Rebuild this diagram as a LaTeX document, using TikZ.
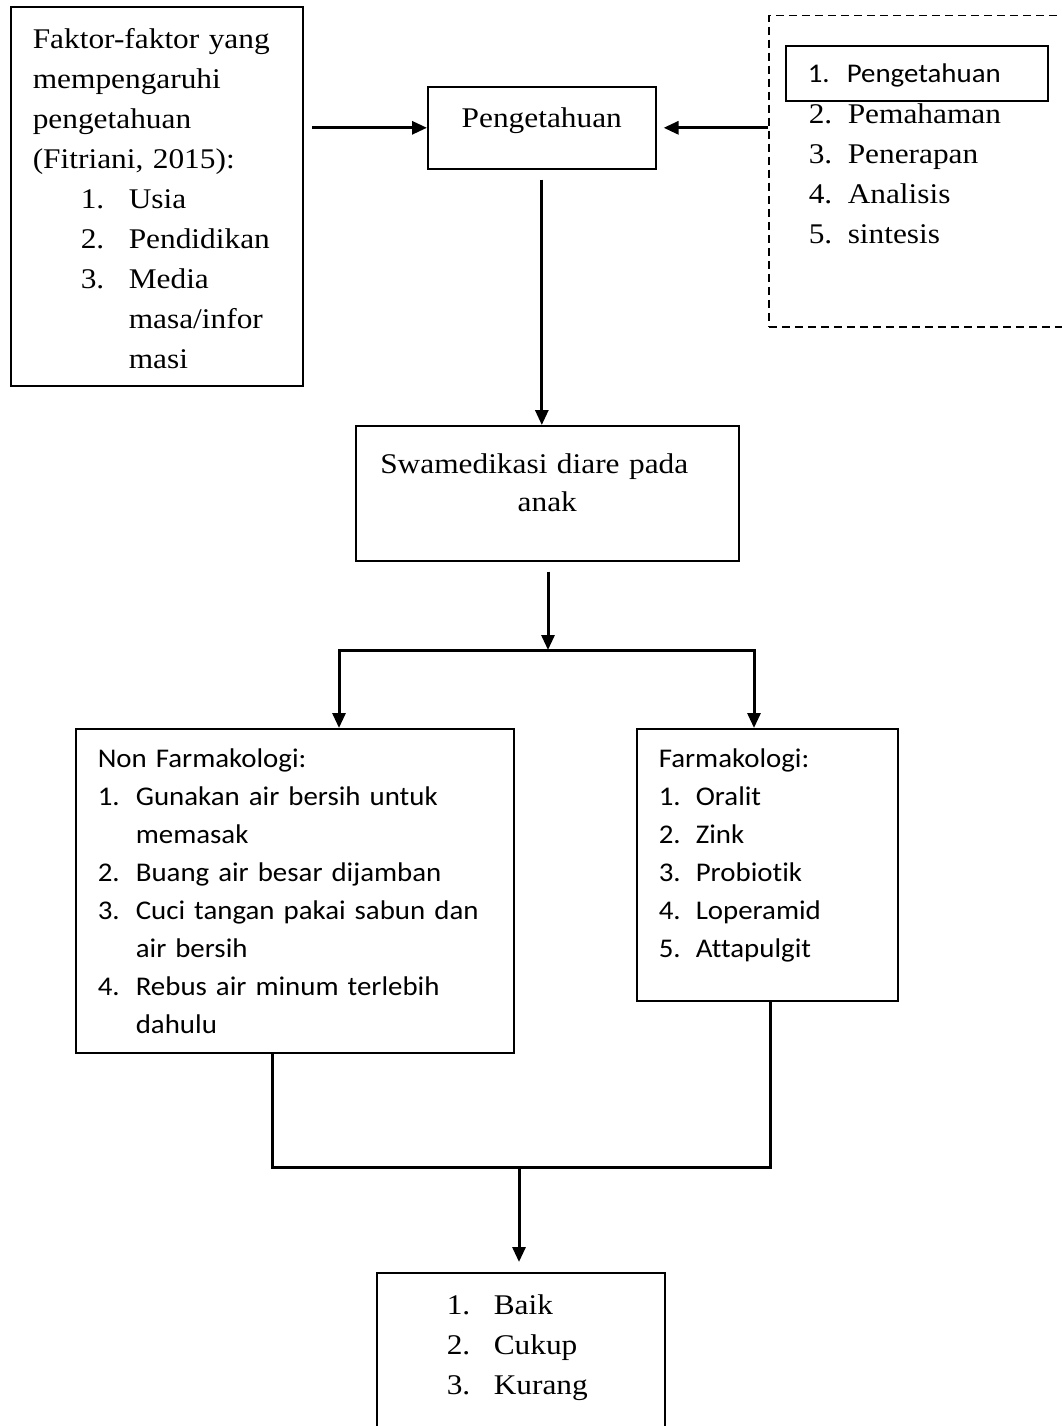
\documentclass[tikz,border=0pt]{standalone}
\usepackage{fontspec}
\setmainfont[FakeStretch=1.1]{Liberation Serif}
\newfontfamily\calibri[FakeStretch=1.07,Ligatures=NoCommon]{Carlito}
\usetikzlibrary{arrows.meta}
\newcommand{\nomor}[2][40pt]{\makebox[#1][l]{#2}}

\begin{document}
\begin{tikzpicture}[
x=1pt, y=-1pt,
box/.style={
  rectangle,
  draw,
  line width=1.6pt,
  inner xsep=22pt,
  inner ysep=0pt,
  align=left,
  anchor=north west
},
tnr/.style={font=\fontsize{28.5}{40}\selectfont},
cal/.style={font=\calibri\fontsize{27}{38}\selectfont},
arrow/.style={-{Triangle[length=15pt,width=13pt]},line width=3pt},
garis/.style={line width=3pt}
]
\useasboundingbox[fill=white] (0,0) rectangle (1062,1426);

% baris atas
\node[box,tnr,text width=248pt,text height=42pt,text depth=337pt] (faktor) at (10,6) {Faktor-faktor yang\\
mempengaruhi\\
pengetahuan\\
(Fitriani, 2015):\\
\hspace*{48pt}\nomor[48pt]{1.}Usia\\
\hspace*{48pt}\nomor[48pt]{2.}Pendidikan\\
\hspace*{48pt}\nomor[48pt]{3.}Media\\
\hspace*{96pt}masa/infor\\
\hspace*{96pt}masi};
\node[box,tnr,align=center,inner xsep=0pt,minimum width=228pt,text height=41pt,text depth=41pt] (peng) at (427,86) {Pengetahuan};
\node[box,tnr,dash pattern=on 8pt off 5pt,line width=1.5pt,inner xsep=40pt,text width=240pt,text height=108pt,text depth=203pt] (kognitif) at (768,15) {\nomor[39pt]{2.}Pemahaman\\
\nomor[39pt]{3.}Penerapan\\
\nomor[39pt]{4.}Analisis\\
\nomor[39pt]{5.}sintesis};
\node[box,cal,text width=218pt,text height=37pt,text depth=18pt] (tahu) at (785,45) {\nomor[39pt]{1.}Pengetahuan};

% tengah
\node[box,tnr,font=\fontsize{28.5}{38}\selectfont,align=center,inner xsep=0pt,text width=383pt,text height=48pt,text depth=87pt] (swa) at (355,425) {Swamedikasi diare pada\makebox[26pt]{}\\anak};

% cabang
\node[box,cal,text width=394pt,text height=39pt,text depth=285pt] (nonfarm) at (75,728) {Non Farmakologi:\\
\nomor[38pt]{1.}Gunakan air bersih untuk\\
\hspace*{38pt}memasak\\
\nomor[38pt]{2.}Buang air besar dijamban\\
\nomor[38pt]{3.}Cuci tangan pakai sabun dan\\
\hspace*{38pt}air bersih\\
\nomor[38pt]{4.}Rebus air minum terlebih\\
\hspace*{38pt}dahulu};
\node[box,cal,text width=217pt,text height=39pt,text depth=233pt] (farm) at (636,728) {Farmakologi:\\
\nomor[37pt]{1.}Oralit\\
\nomor[37pt]{2.}Zink\\
\nomor[37pt]{3.}Probiotik\\
\nomor[37pt]{4.}Loperamid\\
\nomor[37pt]{5.}Attapulgit};

% hasil
\node[box,tnr,text width=244pt,text height=42pt,text depth=118pt] (hasil) at (376,1272) {\hspace*{48pt}\nomor[47pt]{1.}Baik\\
\hspace*{48pt}\nomor[47pt]{2.}Cukup\\
\hspace*{48pt}\nomor[47pt]{3.}Kurang};

\coordinate (faktorOut) at (312,127);
\coordinate (cabang) at (548,650);
\coordinate (cabangKiri) at (339,650);
\coordinate (cabangKanan) at (754,650);
\coordinate (gabungKiri) at (272,1167);
\coordinate (gabungKanan) at (770,1167);
\coordinate (gabung) at (519,1167);

\draw[arrow] (faktorOut |- peng.west) -- (peng.west);
\draw[arrow,shorten >=7pt] (kognitif.west |- peng.east) -- (peng.east);
\draw[arrow,shorten <=10pt] (peng.south) -- (peng.south |- swa.north);
\draw[arrow,shorten <=10pt] (swa.south -| cabang) -- (cabang);
\draw[arrow] (cabang) -- (cabangKiri) -- (cabangKiri |- nonfarm.north);
\draw[arrow] (cabang) -- (cabangKanan) -- (cabangKanan |- farm.north);
\draw[garis] (nonfarm.south -| gabungKiri) -- (gabungKiri) -- (gabungKanan) -- (farm.south -| gabungKanan);
\draw[arrow,shorten >=10pt] (gabung) -- (gabung |- hasil.north);
\end{tikzpicture}
\end{document}
